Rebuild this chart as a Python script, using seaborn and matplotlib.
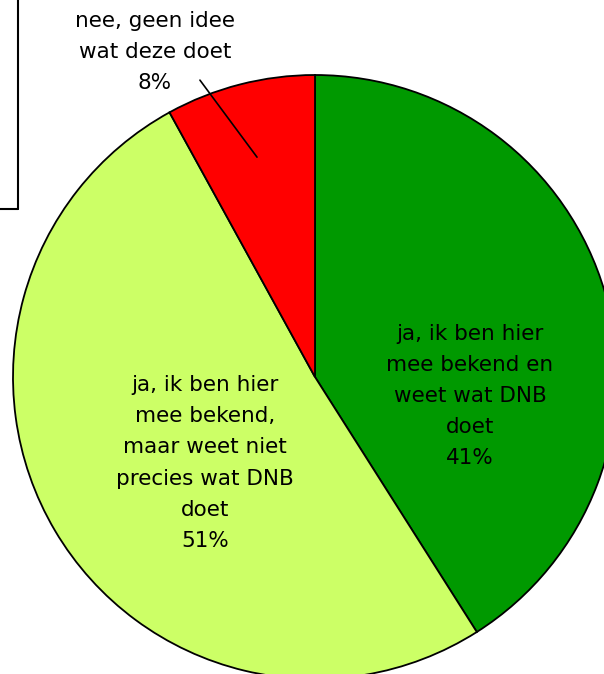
import matplotlib
matplotlib.use("Agg")
import matplotlib.pyplot as plt
import seaborn as sns
from matplotlib.lines import Line2D

labels = ["ja, ik ben hier\nmee bekend en\nweet wat DNB\ndoet",
          "ja, ik ben hier\nmee bekend,\nmaar weet niet\nprecies wat DNB\ndoet",
          "nee, geen idee\nwat deze doet"]
values = [41, 51, 8]
colors = ["#009900", "#CCFF66", "#FF0000"]

sns.set_theme(style="white")
plt.rcParams['font.family'] = ['DejaVu Sans']

fig = plt.figure(figsize=(6.04, 6.74), dpi=100)
# pie centre ~ (315, 377) px, radius ~302 px
ax = fig.add_axes([13 / 604, -5 / 674, 604 / 604, 604 / 674])
wedges, _ = ax.pie(values, colors=colors, startangle=90, counterclock=False,
                   wedgeprops=dict(edgecolor="black", linewidth=1.3))
ax.set_xlim(-1, 1)
ax.set_ylim(-1, 1)
ax.set_aspect("auto")
ax.axis("off")

txt = dict(ha="center", va="center", fontsize=15.5, color="black", linespacing=1.7)
ax.text(0.513, -0.063, f"{labels[0]}\n{values[0]}%", **txt)
ax.text(-0.364, -0.285, f"{labels[1]}\n{values[1]}%", **txt)
ax.text(-0.53, 1.076, f"{labels[2]}\n{values[2]}%", clip_on=False, **txt)
# leader line for the small slice
ax.plot([-0.381, -0.192], [0.983, 0.728], color="black", lw=1.2, clip_on=False)

# fragment of frame box at the top left
fig.add_artist(Line2D([17.5 / 604, 17.5 / 604], [1, 1 - 209 / 674], color="black", lw=1.5))
fig.add_artist(Line2D([0, 17.5 / 604], [1 - 209 / 674, 1 - 209 / 674], color="black", lw=1.5))

fig.savefig("out.png", dpi=100)
